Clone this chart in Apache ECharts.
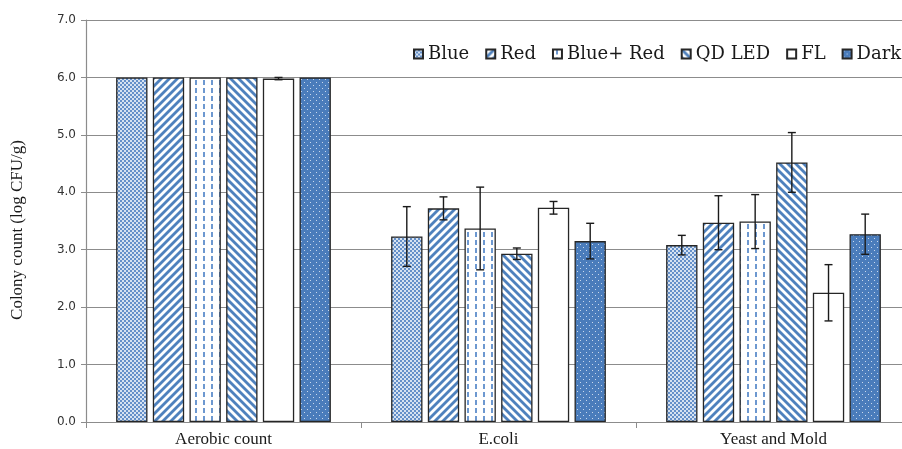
<!DOCTYPE html>
<html>
<head>
<meta charset="utf-8">
<script src="https://cdn.jsdelivr.net/npm/echarts@6/dist/echarts.min.js"></script>
<style>
  html, body { margin: 0; padding: 0; background: #fff; overflow: hidden; }
  #chart { width: 920px; height: 449px; }
</style>
</head>
<body>
<div id="chart"></div>
<script>
// Colony counts per treatment (log CFU/g)
const categories = ['Aerobic count', 'E.coli', 'Yeast and Mold'];
const seriesNames = ['Blue', 'Red', 'Blue+ Red', 'QD LED', 'FL', 'Dark'];
const blueVals    = [6.00, 3.23, 3.08];
const redVals     = [6.00, 3.72, 3.47];
const blueRedVals = [6.00, 3.37, 3.49];
const qdLedVals   = [6.00, 2.93, 4.52];
const flVals      = [5.98, 3.73, 2.25];
const darkVals    = [6.00, 3.15, 3.27];
// Standard deviations
const blueErr    = [0.00, 0.52, 0.17];
const redErr     = [0.00, 0.20, 0.47];
const blueRedErr = [0.00, 0.72, 0.47];
const qdLedErr   = [0.00, 0.10, 0.52];
const flErr      = [0.02, 0.11, 0.49];
const darkErr    = [0.00, 0.31, 0.35];
const yTicks = [0, 1, 2, 3, 4, 5, 6, 7];

const values = [blueVals, redVals, blueRedVals, qdLedVals, flVals, darkVals];
const errors = [blueErr, redErr, blueRedErr, qdLedErr, flErr, darkErr];

function tile(w, h, draw) {
  const c = document.createElement('canvas');
  c.width = w; c.height = h;
  const g = c.getContext('2d');
  draw(g);
  return { image: c, repeat: 'repeat' };
}
const BLUE = '#4f81bd';
const fills = [
  // fine checker
  tile(4, 4, g => {
    g.fillStyle = '#d6e2f1'; g.fillRect(0, 0, 4, 4);
    g.fillStyle = '#6590c9'; g.fillRect(0, 0, 2, 2); g.fillRect(2, 2, 2, 2);
  }),
  // wide upward diagonal
  tile(8, 8, g => {
    g.fillStyle = '#fff'; g.fillRect(0, 0, 8, 8);
    g.strokeStyle = BLUE; g.lineWidth = 2.8;
    [0, 8, 16].forEach(c => { g.beginPath(); g.moveTo(c + 2, -2); g.lineTo(-2, c + 2); g.stroke(); });
  }),
  // dashed vertical
  tile(8, 8, g => {
    g.fillStyle = '#fff'; g.fillRect(0, 0, 8, 8);
    g.fillStyle = '#6d98d0'; g.fillRect(3, 0, 2, 5);
  }),
  // wide downward diagonal
  tile(8, 8, g => {
    g.fillStyle = '#fff'; g.fillRect(0, 0, 8, 8);
    g.strokeStyle = BLUE; g.lineWidth = 2.8;
    [-8, 0, 8].forEach(c => { g.beginPath(); g.moveTo(c - 2, -2); g.lineTo(c + 10, 10); g.stroke(); });
  }),
  '#ffffff',
  // solid with small dots
  tile(6, 6, g => {
    g.fillStyle = '#4a7cbb'; g.fillRect(0, 0, 6, 6);
    g.fillStyle = '#c9d8ec'; g.fillRect(1, 1, 1, 1); g.fillRect(4, 4, 1, 1);
  })
];

const BAR_W = 0.114;   // bar width as share of category width
const BAR_GAP = 0.17;  // gap as share of bar width

const barSeries = seriesNames.map((name, i) => ({
  name: name,
  type: 'bar',
  data: values[i],
  barWidth: (BAR_W * 100) + '%',
  barGap: (BAR_GAP * 100) + '%',
  itemStyle: { color: fills[i], borderColor: '#262626', borderWidth: 1.3 },
  z: 2
}));

const errSeries = seriesNames.map((name, i) => ({
  name: name,
  type: 'custom',
  data: values[i].map((v, k) => [k, v, errors[i][k]]),
  z: 5,
  renderItem: (params, api) => {
    const k = api.value(0), v = api.value(1), e = api.value(2);
    if (!(e > 0)) return null;
    const catW = api.size([1, 0])[0];
    const bw = catW * BAR_W;
    const step = bw * (1 + BAR_GAP);
    const center = api.coord([k, v]);
    const x = center[0] + (i - 2.5) * step;
    const top = api.coord([k, v + e])[1];
    const bot = api.coord([k, v - e])[1];
    const cap = 4;
    const st = { stroke: '#1a1a1a', lineWidth: 1.4, fill: null };
    return {
      type: 'group',
      children: [
        { type: 'line', shape: { x1: x, y1: top, x2: x, y2: bot }, style: st },
        { type: 'line', shape: { x1: x - cap, y1: top, x2: x + cap, y2: top }, style: st },
        { type: 'line', shape: { x1: x - cap, y1: bot, x2: x + cap, y2: bot }, style: st }
      ]
    };
  }
}));

const chart = echarts.init(document.getElementById('chart'), null, { renderer: 'canvas' });
chart.setOption({
  animation: false,
  backgroundColor: '#ffffff',
  grid: { left: 86, top: 20, bottom: 27, right: 9 },
  legend: {
    data: seriesNames,
    left: 408,
    top: 40,
    itemWidth: 9,
    itemHeight: 9,
    itemGap: 16,
    icon: 'rect',
    textStyle: { fontFamily: 'DejaVu Serif', fontSize: 18, color: '#1a1a1a' }
  },
  xAxis: {
    type: 'category',
    data: categories,
    axisLine: { lineStyle: { color: '#8c8c8c', width: 1.2 } },
    axisTick: { show: true, length: 6, lineStyle: { color: '#8c8c8c' } },
    axisLabel: { fontFamily: 'Liberation Serif', fontSize: 17, color: '#1a1a1a', margin: 9 }
  },
  yAxis: {
    type: 'value',
    min: yTicks[0],
    max: yTicks[yTicks.length - 1],
    interval: 1,
    name: 'Colony count (log CFU/g)',
    nameLocation: 'middle',
    nameGap: 60,
    nameTextStyle: { fontFamily: 'Liberation Serif', fontSize: 17, color: '#1a1a1a', padding: [0, 18, 0, 0] },
    axisLine: { show: true, lineStyle: { color: '#8c8c8c', width: 1.2 } },
    axisTick: { show: true, length: 5, lineStyle: { color: '#8c8c8c' } },
    axisLabel: {
      fontFamily: 'DejaVu Sans', fontSize: 12, color: '#333', margin: 10,
      formatter: v => v.toFixed(1)
    },
    splitLine: { lineStyle: { color: '#8c8c8c', width: 1.2 } }
  },
  series: barSeries.concat(errSeries)
});
</script>
</body>
</html>
